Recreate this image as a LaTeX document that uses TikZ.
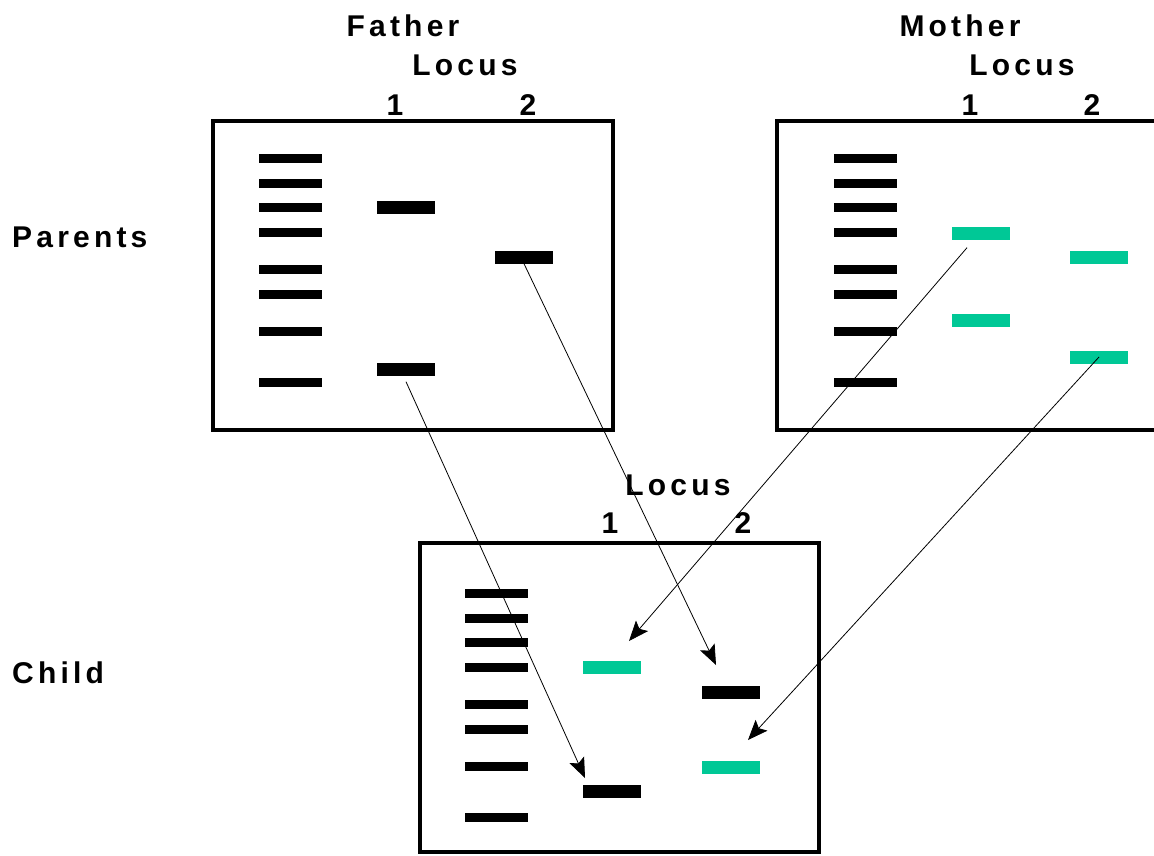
\documentclass[tikz,border=0pt]{standalone}
\usepackage{fontspec}
\setmainfont{Liberation Sans}
\usetikzlibrary{arrows.meta,positioning}
\definecolor{allele}{RGB}{0,200,150}

\begin{document}
\begin{tikzpicture}[
  x=1pt, y=-1pt,
  gel/.style    = {rectangle, draw=black, line width=4pt, inner sep=0pt},
  ladder/.style = {rectangle, fill=black, inner sep=0pt,
                   minimum width=63pt, minimum height=9pt},
  pband/.style  = {rectangle, fill=black, inner sep=0pt,
                   minimum width=58pt, minimum height=13pt},
  mband/.style  = {pband, fill=allele},
  lbl/.style    = {font=\fontsize{30}{32}\selectfont\bfseries\addfontfeature{LetterSpace=14},
                   inner sep=0pt},
  arrow/.style  = {-{Stealth[length=20pt, width=16pt, inset=4pt]}, line width=0.8pt},
]
\useasboundingbox (0,0) rectangle (1154,855);

%% ---- Gels ----
\node[gel, minimum width=400pt, minimum height=309pt] (fbox) at (413,275.5) {};
\node[gel, minimum width=386pt, minimum height=309pt, anchor=west] (mbox) at (775,275.5) {};
\node[gel, minimum width=399pt, minimum height=309pt] (cbox) at (619.5,697.5) {};

%% ---- Labels ----
\node[lbl] (father) at (403,26) {Father};
\node[lbl] (flocus) at (465,65) {Locus};
\node[lbl] (f1) at (395,105) {1};
\node[lbl] (f2) at (528,105) {2};

\node[lbl] (mother) at (960,26) {Mother};
\node[lbl] (mlocus) at (1022,65) {Locus};
\node[lbl] (m1) at (970,105) {1};
\node[lbl] (m2) at (1092,105) {2};

\node[lbl] (clocus) at (678,485) {Locus};
\node[lbl] (c1) at (610,523) {1};
\node[lbl] (c2) at (743,523) {2};

\node[lbl, anchor=west] (parents) at (12,237) {Parents};
\node[lbl, anchor=west] (child) at (12,673) {Child};

%% ---- Size ladders ----
\foreach \y [count=\i] in {158,183,207,232,269,294,331,382} {
  \node[ladder] (fS\i) at (290.5,\y) {};
  \node[ladder] (mS\i) at (865.5,\y) {};
  \node[ladder] (cS\i) at (496.5,\y+435) {};
}

%% ---- Father bands ----
\node[pband] (fL1a) at (406,207) {};
\node[pband] (fL1b) at (406,369) {};
\node[pband] (fL2a) at (524,257) {};

%% ---- Mother bands ----
\node[mband] (mL1a) at (981,233) {};
\node[mband] (mL1b) at (981,320) {};
\node[mband] (mL2a) at (1099,257) {};
\node[mband] (mL2b) at (1099,357) {};

%% ---- Child bands ----
\node[mband] (cL1a) at (612,667) {};
\node[pband] (cL1b) at (612,791) {};
\node[pband] (cL2a) at (730.5,692) {};
\node[mband] (cL2b) at (730.5,767) {};

%% ---- Inheritance arrows ----
\coordinate (e1) at (585,778);
\coordinate (e2) at (716,665);
\coordinate (e3) at (629,641);
\coordinate (e4) at (748,740);

\draw[arrow] ([yshift=-6pt]fL1b.south) -- (e1);
\draw[arrow] (fL2a.south) -- (e2);
\draw[arrow] ([xshift=-14pt,yshift=-8pt]mL1a.south) -- (e3);
\draw[arrow] (mL2b.center) -- (e4);

\end{tikzpicture}
\end{document}
